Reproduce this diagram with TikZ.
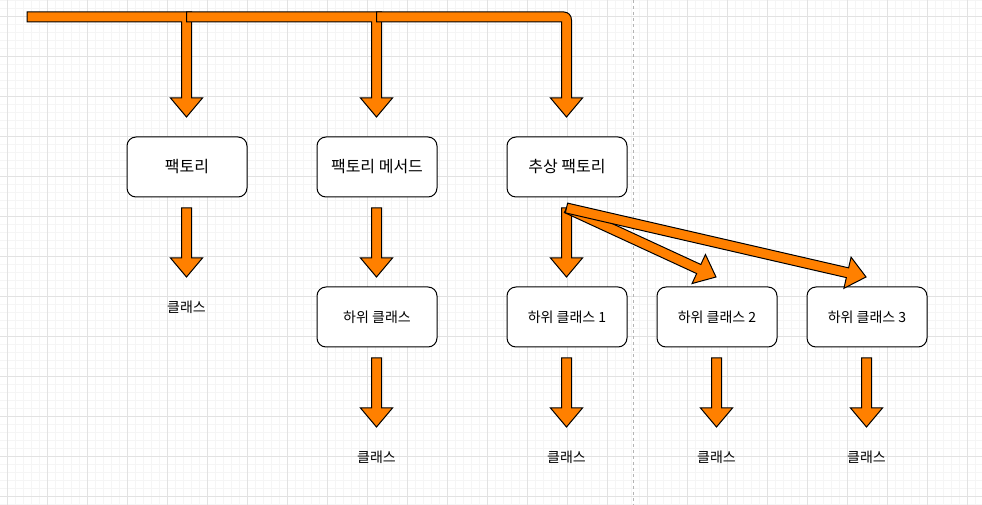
\documentclass[tikz,border=0pt]{standalone}
\usepackage{fontspec}
\setmainfont{Noto Sans CJK KR}
\usetikzlibrary{calc}
\definecolor{flexorange}{HTML}{FF8000}
\definecolor{gridmajor}{HTML}{E2E2E2}
\definecolor{gridminor}{HTML}{F5F5F5}
\definecolor{dashgray}{HTML}{B4B4B4}
\tikzset{
  box/.style={draw=black, line width=0.75pt, fill=white, rounded corners=6.75pt,
    minimum width=90pt, minimum height=45pt, inner sep=0pt, font=\fontsize{12pt}{14pt}\selectfont},
  subbox/.style={box, font=\fontsize{10.5pt}{12pt}\selectfont},
  lbl/.style={inner sep=0pt, font=\fontsize{10.5pt}{12pt}\selectfont},
  flexarrow/.style={draw=black, line width=0.75pt, fill=flexorange, line join=miter},
}
\newcommand{\flexarr}[2]{%
  \coordinate (fh) at ($(#2)!14.25pt!(#1)$);
  \draw[flexarrow] ($(#1)!3.75pt!90:(#2)$) -- ($(fh)!3.75pt!90:(#2)$) -- ($(fh)!12pt!90:(#2)$) -- (#2)
    -- ($(fh)!12pt!-90:(#2)$) -- ($(fh)!3.75pt!-90:(#2)$) -- ($(#1)!3.75pt!-90:(#2)$) -- cycle;}
\begin{document}
\begin{tikzpicture}[x=0.75pt, y=-0.75pt]
\useasboundingbox (0,0) rectangle (982,505);
\fill[white] (0,0) rectangle (982,505);
% grid
\foreach \x in {7,15,...,975} \draw[gridminor, line width=0.75pt] (\x,0) -- (\x,505);
\foreach \y in {1,9,...,505} \draw[gridminor, line width=0.75pt] (0,\y) -- (982,\y);
\foreach \x in {7,47,...,967} \draw[gridmajor, line width=0.75pt] (\x,0) -- (\x,505);
\foreach \y in {17,57,...,497} \draw[gridmajor, line width=0.75pt] (0,\y) -- (982,\y);
% dashed page break
\draw[dashgray, line width=0.75pt, dash pattern=on 2.25pt off 2.25pt] (633,0) -- (633,505);

% top bar arrows
\coordinate (t0) at (27,17);
\draw[flexarrow] (27,12) -- (191.5,12) -- (191.5,98) -- (202.5,98) -- (186.5,117) -- (170.5,98) -- (181.5,98) -- (181.5,22) -- (27,22) -- cycle;
\draw[flexarrow] (186.5,12) -- (381.5,12) -- (381.5,98) -- (392.5,98) -- (376.5,117) -- (360.5,98) -- (371.5,98) -- (371.5,22) -- (186.5,22) -- cycle;
\draw[flexarrow] (376.5,12) -- (564,12) .. controls (568.4,12) and (571.5,15.6) .. (571.5,20) -- (571.5,98) -- (582.5,98) -- (566.5,117) -- (550.5,98) -- (561.5,98) -- (561.5,22) -- (376.5,22) -- cycle;

% boxes
\node[box] (f) at (187,167) {팩토리};
\node[box] (fm) at (377,167) {팩토리 메서드};
\node[box] (af) at (567,167) {추상 팩토리};
\node[subbox] (s) at (377,317) {하위 클래스};
\node[subbox] (s1) at (567,317) {하위 클래스 1};
\node[subbox] (s2) at (717,317) {하위 클래스 2};
\node[subbox] (s3) at (867,317) {하위 클래스 3};

% labels
\node[lbl] (c0) at (186.5,307.5) {클래스};
\node[lbl] (c) at (376.5,457.5) {클래스};
\node[lbl] (c1) at (566.5,457.5) {클래스};
\node[lbl] (c2) at (716.5,457.5) {클래스};
\node[lbl] (c3) at (866.5,457.5) {클래스};

% arrow end points
\coordinate (a0s) at (186.5,208); \coordinate (a0e) at (186.5,277);
\coordinate (a1s) at (376.5,208); \coordinate (a1e) at (376.5,277);
\coordinate (a2s) at (566.5,208); \coordinate (a2e) at (566.5,277);
\coordinate (b1s) at (376.5,358); \coordinate (b1e) at (376.5,427);
\coordinate (b2s) at (566.5,358); \coordinate (b2e) at (566.5,427);
\coordinate (b3s) at (716.5,358); \coordinate (b3e) at (716.5,427);
\coordinate (b4s) at (866.5,358); \coordinate (b4e) at (866.5,427);
\coordinate (d2e) at (716,277);
\coordinate (d3e) at (866,277);

\flexarr{a0s}{a0e}
\flexarr{a1s}{a1e}
\flexarr{a2s}{a2e}
\flexarr{a2s}{d2e}
\flexarr{a2s}{d3e}
\flexarr{b1s}{b1e}
\flexarr{b2s}{b2e}
\flexarr{b3s}{b3e}
\flexarr{b4s}{b4e}
\end{tikzpicture}
\end{document}
